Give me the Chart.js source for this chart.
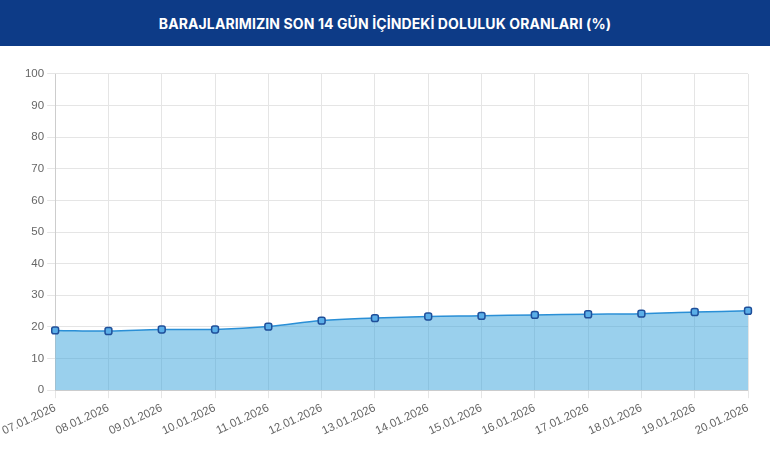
<!DOCTYPE html>
<html><head><meta charset="utf-8">
<script src="https://cdn.jsdelivr.net/npm/chart.js@4/dist/chart.umd.min.js"></script>
<style>
body{margin:0;background:#fff;width:770px;height:469px;overflow:hidden;font-family:Inter,"Open Sans",sans-serif}
#hdr{height:46px;background:#0d3b87;color:#fff;font-weight:700;font-size:14px;display:flex;align-items:center;justify-content:center;letter-spacing:0.1px}
#wrap{position:absolute;left:0;top:64px;width:770px;height:405px}
</style></head><body>
<div id="hdr">BARAJLARIMIZIN SON 14 GÜN İÇİNDEKİ DOLULUK ORANLARI (%)</div>
<div id="wrap"><canvas id="c"></canvas></div>
<script>
const categories=["07.01.2026","08.01.2026","09.01.2026","10.01.2026","11.01.2026","12.01.2026","13.01.2026","14.01.2026","15.01.2026","16.01.2026","17.01.2026","18.01.2026","19.01.2026","20.01.2026"];
const values=[18.9,18.7,19.2,19.2,20.1,22.0,22.8,23.3,23.5,23.8,24.0,24.2,24.7,25.1];
new Chart(document.getElementById('c'),{type:'line',
data:{labels:categories,datasets:[{data:values,fill:true,backgroundColor:'rgba(54,162,220,0.5)',borderColor:'#2a8fd6',borderWidth:1.5,tension:0.4,pointStyle:'rectRounded',pointRadius:4,pointBackgroundColor:'#5aaee8',pointBorderColor:'#1f4f9a',pointBorderWidth:1.5}]},
options:{responsive:true,maintainAspectRatio:false,animation:false,
layout:{padding:{left:14,right:22,top:4,bottom:28}},
plugins:{legend:{display:false},tooltip:{enabled:false}},
scales:{x:{grid:{color:'#e5e5e5'},ticks:{color:'#666',font:{size:11.5},maxRotation:25,minRotation:25}},
y:{min:0,max:100,grid:{color:'#e5e5e5'},ticks:{stepSize:10,color:'#666',font:{size:11.5}}}}}});
</script></body></html>
